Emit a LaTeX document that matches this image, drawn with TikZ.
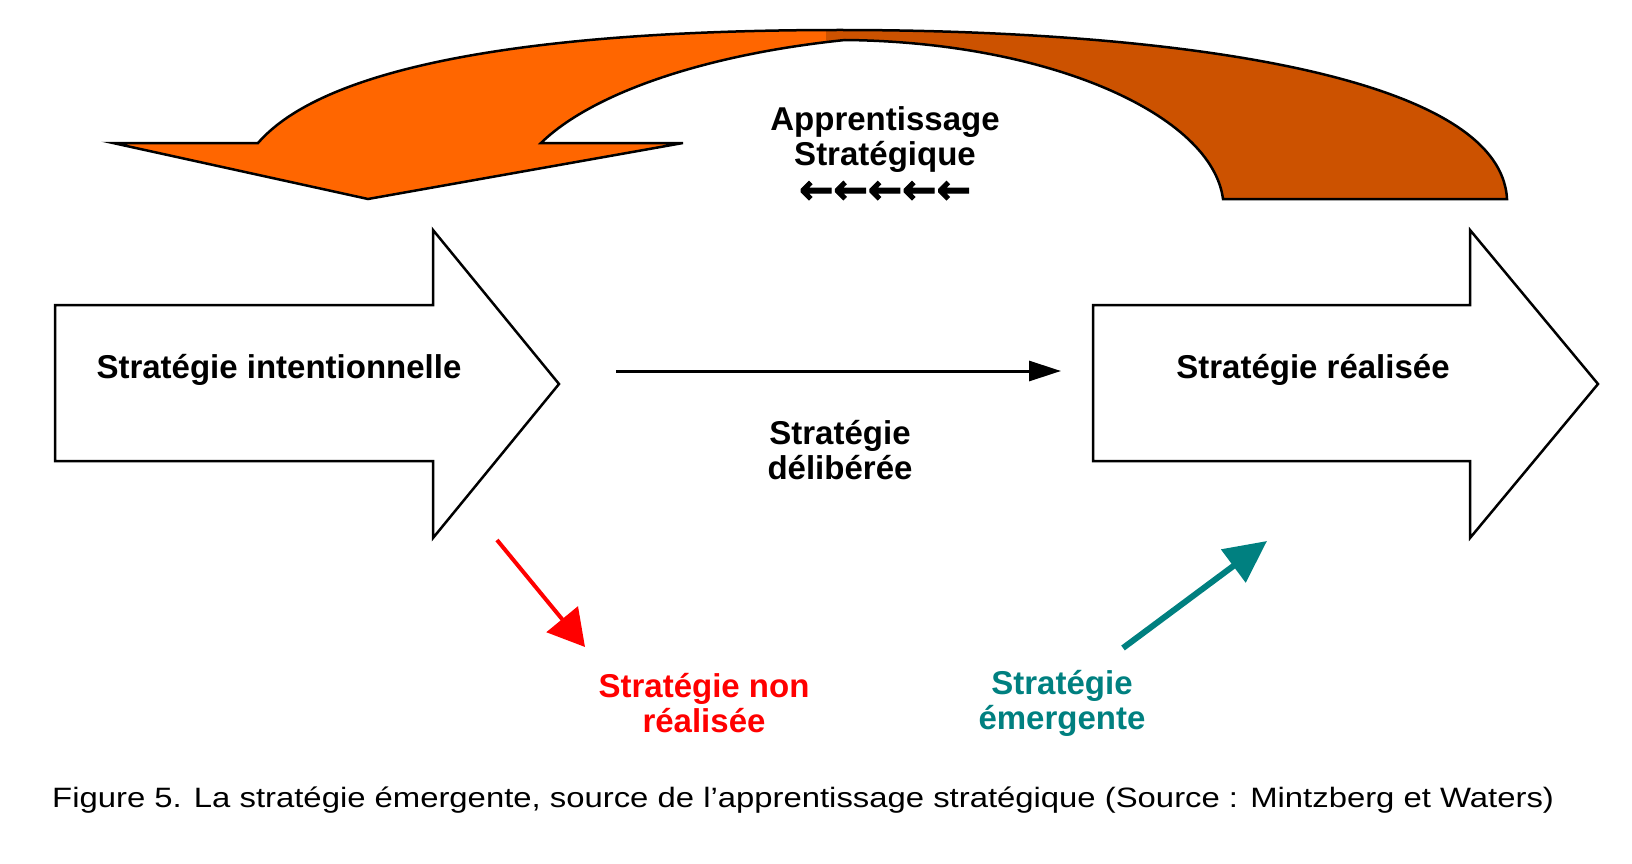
\documentclass[tikz,border=0pt]{standalone}
\usepackage{fontspec}
\setmainfont{Liberation Sans}
\newfontfamily\arrowfont[FakeBold=2.5]{DejaVu Sans}
\definecolor{learnorange}{RGB}{255, 102, 0}
\definecolor{learnbrown}{RGB}{204, 82, 0}
\definecolor{unrealred}{RGB}{255, 0, 0}
\definecolor{emergeteal}{RGB}{0, 128, 128}
\usetikzlibrary{arrows.meta}

\tikzset{
  bigarrow/.style={draw=black, line width=2.5pt, fill=white, line join=miter},
  stratlabel/.style={font=\fontsize{33}{35}\selectfont\bfseries, align=center, inner sep=0pt},
  delibarrow/.style={-{Triangle[length=32pt, width=20pt]}, line width=3pt},
  unrealarrow/.style={-{Triangle[length=36pt, width=40pt]}, line width=4pt, unrealred},
  emergearrow/.style={-{Triangle[length=42pt, width=40pt]}, line width=6pt, emergeteal}
}

\begin{document}
\begin{tikzpicture}[x=1pt, y=-1pt]
  \useasboundingbox (0,0) rectangle (1632,864);

  % Learning loop
  \path[draw=black, line width=2.5pt, line join=miter, fill=learnorange,
        path picture={\fill[learnbrown] (826,0) rectangle (1632,300);}]
    (113,143) -- (258,143)
    .. controls (330,60) and (560,30) .. (840,30)
    .. controls (1150,30) and (1500,70) .. (1507,199)
    -- (1223,199)
    .. controls (1212,115) and (1050,42) .. (845,40)
    .. controls (700,55) and (590,95) .. (541,143)
    -- (683,143) -- (368,199) -- cycle;

  % Big arrows
  \draw[bigarrow] (55,305) -- (433,305) -- (433,230) -- (559,384) -- (433,538) -- (433,461) -- (55,461) -- cycle;
  \draw[bigarrow] (1093,305) -- (1470,305) -- (1470,230) -- (1598,384) -- (1470,538) -- (1470,461) -- (1093,461) -- cycle;

  % Labels
  \node[stratlabel] (intent) at (279,370) {Stratégie intentionnelle};
  \node[stratlabel] (realised) at (1313,370) {Stratégie réalisée};
  \node[stratlabel] (learning) at (885,155) {Apprentissage\\Stratégique\\[3pt]{\arrowfont\fontsize{41}{41}\selectfont ←←←←←}};
  \node[stratlabel] (deliberate) at (840,450) {Stratégie\\délibérée};
  \node[stratlabel, text=unrealred] (unrealised) at (704,703) {Stratégie non\\réalisée};
  \node[stratlabel, text=emergeteal] (emergent) at (1062,703) {Stratégie\\émergente};

  % Arrows
  \coordinate (delib-start) at (616,371);
  \coordinate (delib-end) at (1061,371);
  \coordinate (unreal-start) at (497,540);
  \coordinate (unreal-end) at (585,647);
  \coordinate (emerge-start) at (1123,648);
  \coordinate (emerge-end) at (1267,541);
  \draw[delibarrow] (delib-start) -- (delib-end);
  \draw[unrealarrow] (unreal-start) -- (unreal-end);
  \draw[emergearrow] (emerge-start) -- (emerge-end);

  % Caption
  \node[anchor=west, inner sep=0pt, font=\fontsize{28}{30}\selectfont] (caption) at (52,800)
    {\scalebox{1.173}[1]{Figure 5. La stratégie émergente, source de l'apprentissage stratégique (Source : Mintzberg et Waters)}};
\end{tikzpicture}
\end{document}
